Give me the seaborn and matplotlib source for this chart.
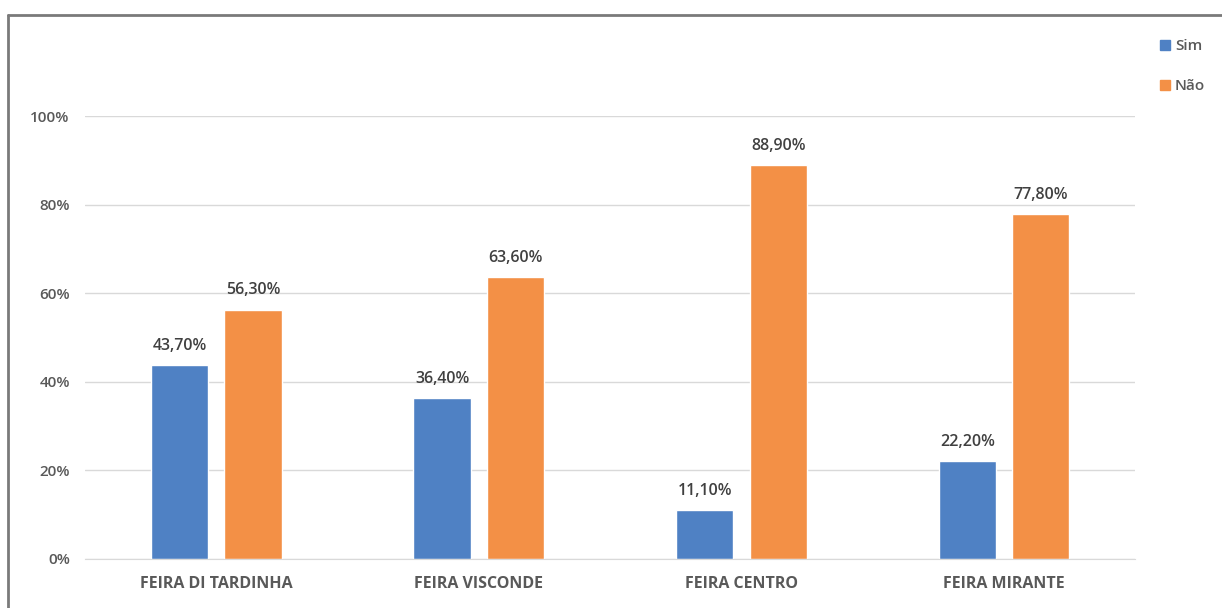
import pandas as pd
import matplotlib.pyplot as plt
import seaborn as sns
from matplotlib.lines import Line2D

# data
feiras = ["FEIRA DI TARDINHA", "FEIRA VISCONDE", "FEIRA CENTRO", "FEIRA MIRANTE"]
sim = [43.7, 36.4, 11.1, 22.2]
nao = [56.3, 63.6, 88.9, 77.8]
respostas = ["Sim", "Não"]
cores = ["#4f81c4", "#f39046"]

df = pd.DataFrame({
    "Feira": feiras * 2,
    "Resposta": ["Sim"] * len(feiras) + ["Não"] * len(feiras),
    "Valor": sim + nao,
})

sns.set_style("white")
plt.rcParams['font.family'] = ['Open Sans', 'DejaVu Sans']

fig = plt.figure(figsize=(12.22, 6.08), dpi=100)
ax = fig.add_axes([0.0696, 0.0806, 0.8594, 0.7286])

sns.barplot(data=df, x="Feira", y="Valor", hue="Resposta", hue_order=respostas,
            palette=cores, width=0.56, gap=0.22, ax=ax, legend=False,
            saturation=1, errorbar=None)

ax.set_ylim(0, 100)
ax.set_xlim(-0.5, len(feiras) - 0.5)
ax.set_yticks(range(0, 101, 20))
ax.set_yticklabels([f"{v}%" for v in range(0, 101, 20)], color="#595959",
                   fontsize=11, fontweight="semibold")
ax.tick_params(axis="y", length=0, pad=11)
ax.tick_params(axis="x", length=0, pad=12)
for lbl in ax.get_xticklabels():
    lbl.set_color("#595959")
    lbl.set_fontsize(11.5)
    lbl.set_fontweight("bold")
ax.set_xlabel("")
ax.set_ylabel("")
ax.yaxis.grid(True, color="#d9d9d9", linewidth=1)
ax.set_axisbelow(True)
for s in ["top", "right", "left"]:
    ax.spines[s].set_visible(False)
ax.spines["bottom"].set_color("#d9d9d9")

for cont in ax.containers:
    ax.bar_label(cont, labels=[f"{v:.2f}%".replace(".", ",") for v in cont.datavalues],
                 padding=8, color="#404040", fontsize=11.5, fontweight="semibold")

# legend in the top right corner
handles = [Line2D([0], [0], marker="s", linestyle="", markersize=7,
                  markerfacecolor=c, markeredgecolor=c) for c in cores]
fig.legend(handles, respostas, loc="upper left", bbox_to_anchor=(0.936, 0.958),
           frameon=False, handletextpad=0.15, labelspacing=1.7,
           prop={"size": 11, "weight": "semibold"}, labelcolor="#595959",
           handlelength=1.0)

# outer frame (top and left border)
fig.add_artist(Line2D([0.0065, 1.0], [0.975, 0.975], color="#7a7a7a", linewidth=2,
                      transform=fig.transFigure))
fig.add_artist(Line2D([0.0065, 0.0065], [0.0, 0.975], color="#7a7a7a", linewidth=2,
                      transform=fig.transFigure))

fig.savefig("out.png", dpi=100)
